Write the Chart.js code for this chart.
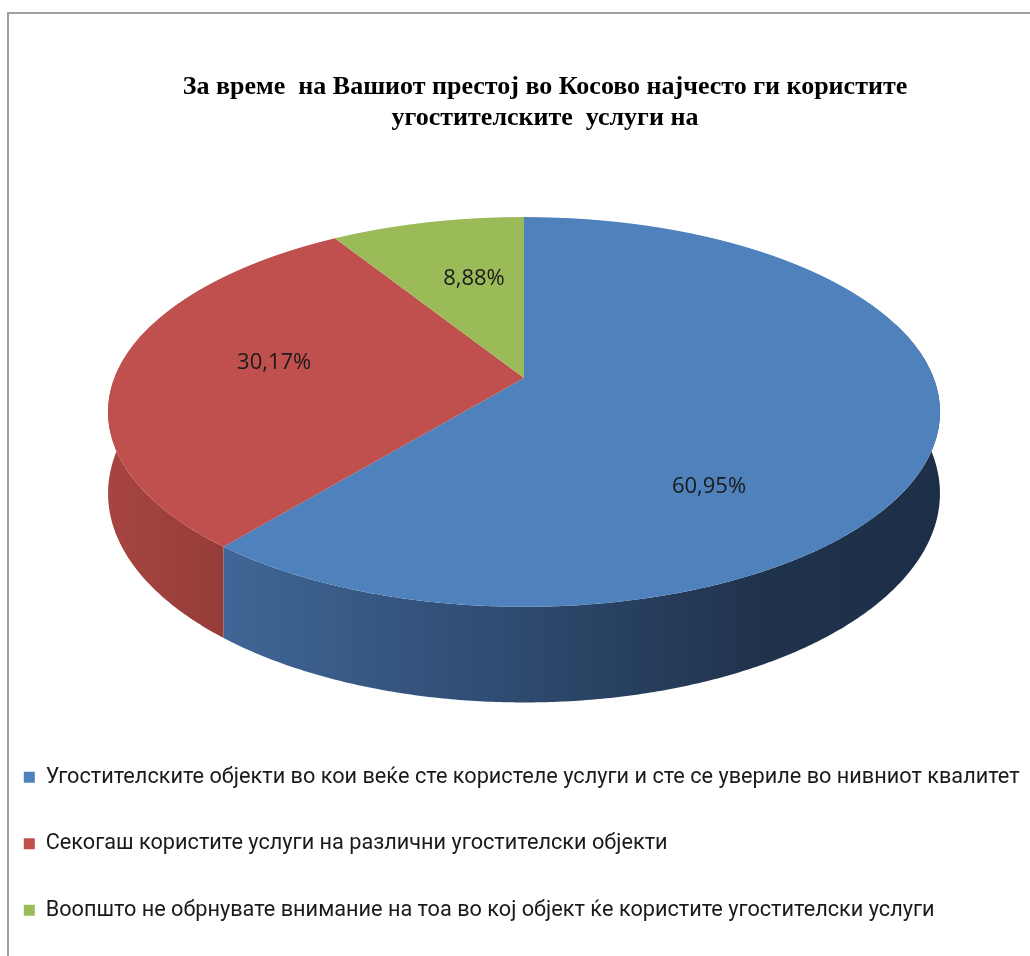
<!DOCTYPE html>
<html>
<head>
<meta charset="utf-8">
<script src="https://cdn.jsdelivr.net/npm/chart.js@4.4.1/dist/chart.umd.min.js"></script>
<style>
  html, body { margin: 0; padding: 0; background: #fff; }
</style>
</head>
<body>
<canvas id="myChart" width="1030" height="956"></canvas>
<script>
const categories = [
  'Угостителските објекти во кои веќе сте користеле услуги и сте се увериле во нивниот квалитет',
  'Секогаш користите услуги на различни угостителски објекти',
  'Воопшто не обрнувате внимание на тоа во кој објект ќе користите угостителски услуги'
];
const shares = [60.95, 30.17, 8.88];
const titleLines = [
  'За време  на Вашиот престој во Косово најчесто ги користите',
  'угостителските  услуги на'
];

const topColors = ['#4F81BD', '#C0504D', '#9BBB59'];
// colours of the outer wall, left to right
const sideColors = [
  ['#3F6697', '#35557F', '#2A4466', '#20334D', '#1D2F47'],
  ['#A64542', '#963C39'],
  ['#86A24D', '#71893F']
];

// tilted disc seen in perspective: screen = centre + k * (p, q) / (1 - persp * q)
const view = { cx: 524, apexY: 378, kx: 409.6, ky: 189, persp: 0.174, depth: 79 };

function project(p, q) {
  const d = 1 - view.persp * q;
  return { x: view.cx + view.kx * p / d, y: view.apexY + view.ky * q / d };
}

const pie3d = {
  id: 'pie3d',
  beforeDraw(chart) {
    const ctx = chart.ctx;
    ctx.save();
    ctx.fillStyle = '#fff';
    ctx.fillRect(0, 0, chart.width, chart.height);
    ctx.strokeStyle = '#a0a0a0';
    ctx.lineWidth = 2;
    ctx.strokeRect(8, 13, chart.width + 20, chart.height + 20);
    ctx.restore();
  },
  beforeDatasetsDraw(chart) {
    const ctx = chart.ctx;
    const arcs = chart.getDatasetMeta(0).data;
    const dpr = chart.currentDevicePixelRatio;

    // outer wall, front half only
    arcs.forEach((arc, i) => {
      const a = Math.max(arc.startAngle, -0.3);
      const b = Math.min(arc.endAngle, Math.PI + 0.3);
      if (b <= a) return;
      const n = Math.max(2, Math.ceil((b - a) * 120));
      const top = [], bottom = [];
      for (let k = 0; k <= n; k++) {
        const t = a + (b - a) * k / n;
        const pt = project(Math.cos(t), Math.sin(t));
        top.push(pt);
        bottom.push({ x: pt.x, y: pt.y + view.depth / (1 - view.persp * Math.sin(t)) });
      }
      const xs = top.map(p => p.x);
      const x0 = Math.min(...xs), x1 = Math.max(...xs);
      const grad = ctx.createLinearGradient(x0, 0, x1, 0);
      sideColors[i].forEach((c, j, all) => grad.addColorStop(j / (all.length - 1), c));
      ctx.save();
      ctx.beginPath();
      top.forEach((p, k) => k ? ctx.lineTo(p.x, p.y) : ctx.moveTo(p.x, p.y));
      for (let k = bottom.length - 1; k >= 0; k--) ctx.lineTo(bottom[k].x, bottom[k].y);
      ctx.closePath();
      ctx.fillStyle = grad;
      ctx.fill();
      ctx.restore();
    });

    // top face: redraw the arcs row by row with the local perspective scale
    const R = arcs[0].outerRadius, ax = arcs[0].x, ay = arcs[0].y;
    const yTop = Math.floor(project(0, -1).y) - 1;
    const yBot = Math.ceil(project(0, 1).y) + 1;
    for (let y = yTop; y < yBot; y++) {
      const t = (y + 0.5 - view.apexY) / view.ky;
      const q = t / (1 + view.persp * t);
      const d = 1 - view.persp * q;
      const sx = view.kx / (d * R);
      const sy = view.ky / (d * d * R);
      ctx.save();
      ctx.setTransform(dpr, 0, 0, dpr, 0, 0);
      ctx.beginPath();
      ctx.rect(0, y, chart.width, 1);
      ctx.clip();
      ctx.setTransform(dpr * sx, 0, 0, dpr * sy,
        dpr * (view.cx - sx * ax), dpr * (y + 0.5 - sy * (ay + q * R)));
      arcs.forEach(arc => arc.draw(ctx));
      ctx.restore();
    }
    return false;
  },
  afterDraw(chart) {
    const ctx = chart.ctx;
    const arcs = chart.getDatasetMeta(0).data;
    const apex = project(0, 0);
    const TAU = Math.PI * 2;
    const seen = a => {
      const p = project(Math.cos(a), Math.sin(a));
      return Math.atan2(p.y - apex.y, p.x - apex.x);
    };
    ctx.save();
    ctx.font = '22px "Open Sans"';
    ctx.fillStyle = '#1a1a1a';
    ctx.textAlign = 'center';
    ctx.textBaseline = 'middle';
    arcs.forEach((arc, i) => {
      // label sits on the bisector of the slice as it appears on screen
      const s = seen(arc.startAngle);
      let e = seen(arc.endAngle);
      while (e <= s) e += TAU;
      const mid = (s + e) / 2;
      let lo = arc.startAngle, hi = arc.endAngle;
      for (let k = 0; k < 40; k++) {
        const m = (lo + hi) / 2;
        let am = seen(m);
        while (am < s) am += TAU;
        while (am >= s + TAU) am -= TAU;
        if (am < mid) lo = m; else hi = m;
      }
      const rim = project(Math.cos(lo), Math.sin(lo));
      const x = apex.x + 0.63 * (rim.x - apex.x);
      const y = apex.y + 0.63 * (rim.y - apex.y);
      ctx.fillText(shares[i].toFixed(2).replace('.', ',') + '%', x, y);
    });
    ctx.restore();
  }
};

new Chart(document.getElementById('myChart'), {
  type: 'pie',
  data: {
    labels: categories,
    datasets: [{
      data: shares,
      backgroundColor: topColors,
      borderWidth: 0
    }]
  },
  options: {
    responsive: false,
    animation: false,
    events: [],
    layout: { padding: { left: -21, right: -81, top: 0, bottom: 25 } },
    plugins: {
      title: {
        display: true,
        text: titleLines,
        color: '#000',
        font: { family: '"Liberation Serif"', size: 26, weight: 'bold', lineHeight: '31px' },
        padding: { top: 72, bottom: 12 }
      },
      legend: {
        position: 'bottom',
        align: 'start',
        labels: {
          boxWidth: 11,
          boxHeight: 11,
          padding: 44.8,
          color: '#1a1a1a',
          font: { family: 'Roboto', size: 21.7, lineHeight: 1 }
        }
      },
      tooltip: { enabled: false }
    }
  },
  plugins: [pie3d]
});
</script>
</body>
</html>
